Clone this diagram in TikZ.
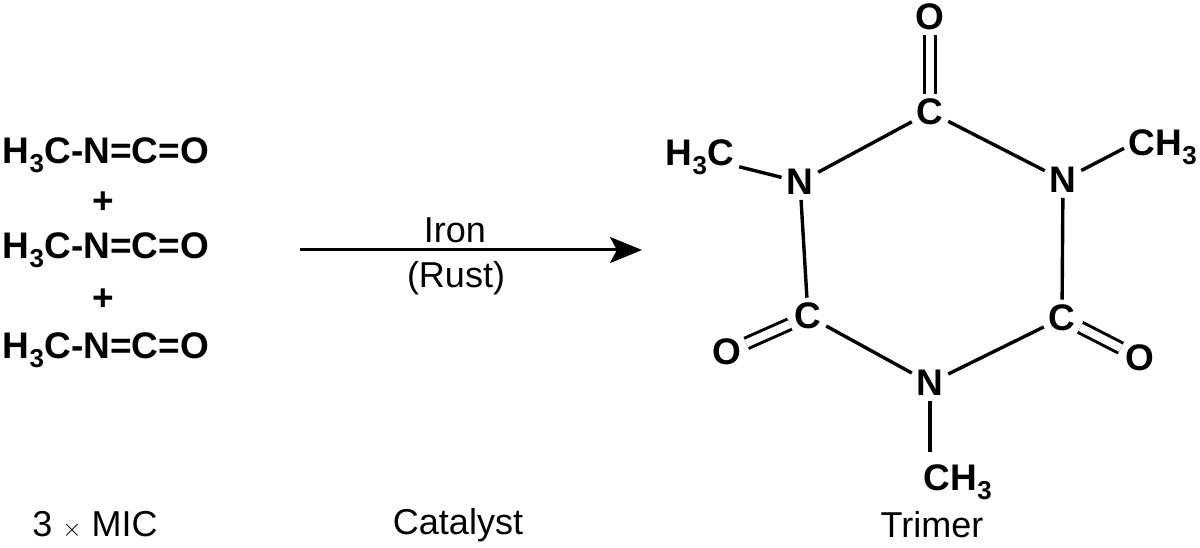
\documentclass[tikz,border=0pt]{standalone}
\usepackage{fontspec}
\setmainfont{Liberation Sans}
\usetikzlibrary{arrows.meta}
\begin{document}
\begin{tikzpicture}[x=1pt,y=-1pt,
  chem/.style={font=\fontsize{37}{37}\selectfont\bfseries, inner sep=2pt},
  lab/.style={font=\fontsize{36}{36}\selectfont},
  bond/.style={line width=3.4pt, shorten <=3pt, shorten >=3pt},
  dbond/.style={line width=3pt, double, double distance=8pt, shorten <=3pt, shorten >=3pt}]
\useasboundingbox (0,0) rectangle (1200,548);
\node[chem] (m1) at (106,155) {H\textsubscript{3}C-N=C=O};
\node[chem] (p1) at (103,203) {+};
\node[chem] (m2) at (106,250) {H\textsubscript{3}C-N=C=O};
\node[chem] (p2) at (103,300) {+};
\node[chem] (m3) at (106,350) {H\textsubscript{3}C-N=C=O};
\coordinate (a1) at (300,250);
\coordinate (a2) at (642,250);
\draw[line width=3pt,-{Stealth[length=32pt,width=26pt,inset=7pt]}] (a1) -- (a2);
\node[lab] (iron) at (455,230) {Iron};
\node[lab] (rust) at (456,278) {(Rust)};
\node[lab] (l1) at (95,525) {3 $\times$ MIC};
\node[lab] (l2) at (458,525) {Catalyst};
\node[lab] (l3) at (932,525) {Trimer};
\node[chem] (c1) at (930,112) {C};
\node[chem] (n1) at (1063,180) {N};
\node[chem] (c2) at (1062,318) {C};
\node[chem] (n2) at (930,383) {N};
\node[chem] (c3) at (808,316) {C};
\node[chem] (n3) at (800,182) {N};
\node[chem] (o1) at (930,17) {O};
\node[chem] (o2) at (727,352) {O};
\node[chem] (o3) at (1140,358) {O};
\node[chem] (me1) at (700,157) {H\textsubscript{3}C};
\node[chem] (me2) at (1163,147) {CH\textsubscript{3}};
\node[chem] (me3) at (958,482) {CH\textsubscript{3}};
\draw[bond] (c1) -- (n1);
\draw[bond] (n1) -- (c2);
\draw[bond] (c2) -- (n2);
\draw[bond] (n2) -- (c3);
\draw[bond] (c3) -- (n3);
\draw[bond] (n3) -- (c1);
\draw[bond] (n3) -- (me1);
\draw[bond] (n1) -- (me2.west);
\draw[bond] (n2) -- (930,455);
\draw[dbond] (c1) -- (o1);
\draw[dbond] (c3) -- (o2);
\draw[dbond] (c2) -- (o3);
\end{tikzpicture}
\end{document}
